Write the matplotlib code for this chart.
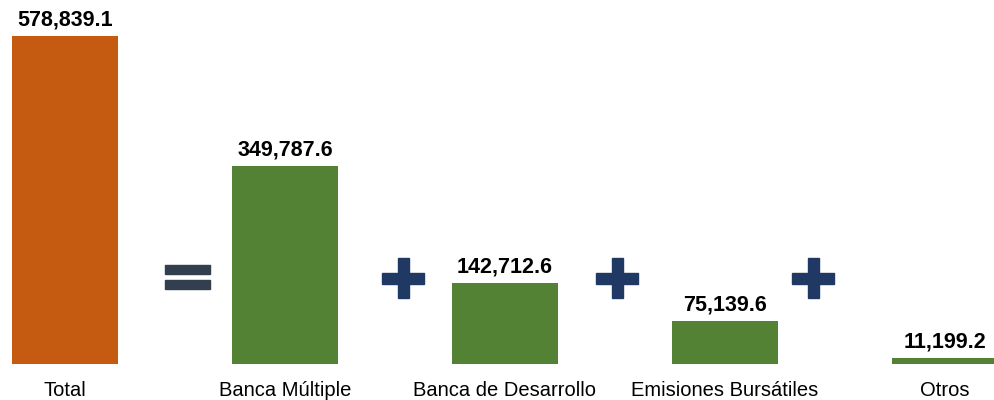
import matplotlib.pyplot as plt
from matplotlib.patches import Rectangle

plt.rcParams['font.family'] = ['Liberation Sans', 'DejaVu Sans']

# Data
categories = ['Total', 'Banca Múltiple', 'Banca de Desarrollo', 'Emisiones Bursátiles', 'Otros']
values = [578839.1, 349787.6, 142712.6, 75139.6, 11199.2]
bar_colors = ['#C55A11', '#548235', '#548235', '#548235', '#548235']

W, H = 995, 400
fig = plt.figure(figsize=(W / 100, H / 100), dpi=100, facecolor='white')

# main axes: bottom at pixel y=364, top at pixel y=5
ax = fig.add_axes([0, (H - 364) / H, 1, (364 - 5) / H])
xs = list(range(len(categories)))
ax.bar(xs, values, width=0.486, color=bar_colors)
ax.set_xlim(-65 / 220, (W - 65) / 220)
ax.set_ylim(0, values[0] * 359 / 328)
ax.axis('off')

for x, v in zip(xs, values):
    ax.annotate(f'{v:,.1f}', (x, v), xytext=(0, 4), textcoords='offset points',
                ha='center', va='bottom', fontsize=15.5, fontweight='bold', color='black')
    ax.annotate(categories[x], (x, 0), xytext=(0, -12), textcoords='offset points',
                ha='center', va='top', fontsize=14.5, color='black')

# overlay in pixel coordinates for the = and + signs
ov = fig.add_axes([0, 0, 1, 1])
ov.set_xlim(0, W)
ov.set_ylim(H, 0)
ov.axis('off')
ov.patch.set_alpha(0)

eq_color = '#323F4F'
ov.add_patch(Rectangle((165, 265), 45, 9, color=eq_color))
ov.add_patch(Rectangle((165, 280), 45, 9, color=eq_color))

plus_color = '#1F3864'
for cx in [403, 617, 813]:
    cy = 278
    ov.add_patch(Rectangle((cx - 21, cy - 5.5), 42, 11, color=plus_color))
    ov.add_patch(Rectangle((cx - 5.5, cy - 20), 11, 40, color=plus_color))

fig.savefig('out.png', dpi=100, facecolor='white')
